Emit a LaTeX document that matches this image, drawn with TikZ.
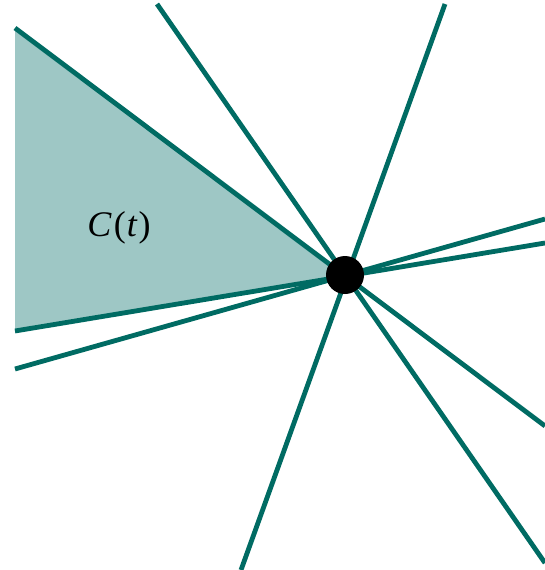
\documentclass[tikz,border=0pt]{standalone}
\usepackage{fontspec}
\setmainfont{Liberation Serif}
\usepackage{tikz}
\definecolor{rayteal}{RGB}{0,107,99}
\definecolor{conefill}{RGB}{158,199,197}

\begin{document}
\begin{tikzpicture}[
      x=1pt, y=-1pt,
      ray/.style={line width=4.8pt, draw=rayteal},
      cone/.style={fill=conefill},
      apex/.style={circle, fill=black, inner sep=0pt, minimum size=38pt}
    ]
    \useasboundingbox (0,0) rectangle (545,570);

    % end points of the rays
    \coordinate (o)  at (345,275);
    \coordinate (a1) at (15,28);   \coordinate (b1) at (545,426);
    \coordinate (a2) at (15,331);  \coordinate (b2) at (545,243);
    \coordinate (a3) at (15,369);  \coordinate (b3) at (545,219);
    \coordinate (a4) at (157,4);   \coordinate (b4) at (545,563);
    \coordinate (a5) at (445,4);   \coordinate (b5) at (241,570);

    % the cone C(t)
    \fill[cone] (a1) -- (o) -- (a2) -- cycle;
    \node[font=\fontsize{36}{42}\selectfont] (lbl) at (119,228)
      {\textit{C}\kern2pt(\kern1pt\textit{t}\kern1pt)};

    \draw[ray] (a1) -- (b1);
    \draw[ray] (a2) -- (b2);
    \draw[ray] (a3) -- (b3);
    \draw[ray] (a4) -- (b4);
    \draw[ray] (a5) -- (b5);

    \node[apex] (dot) at (o) {};
  \end{tikzpicture}
\end{document}
